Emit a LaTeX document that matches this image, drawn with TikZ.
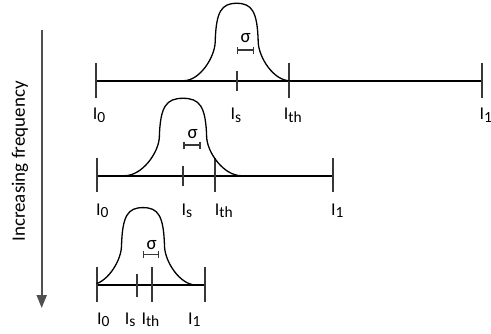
\documentclass[tikz,border=0pt]{standalone}
\usepackage{fontspec}
\setmainfont{Carlito}
\usetikzlibrary{arrows.meta}
\definecolor{TickGray}{RGB}{55,55,55}
\definecolor{ArrowGray}{RGB}{80,80,80}
\tikzset{
  >=latex,
  % assi, tacche e campana
  axis/.style={line width=1.9pt,black},
  tick long/.style={line width=1.9pt,TickGray},
  tick short/.style={line width=1.8pt,TickGray},
  bell/.style={line width=1.3pt,black},
  sigma bar/.style={line width=1.3pt,TickGray,{Bar[width=7pt]}-{Bar[width=7pt]}},
  % testi
  lbl/.style={anchor=base west,inner sep=0pt,font=\fontsize{18}{18}\selectfont},
  sig/.style={inner sep=0pt,font=\fontsize{19}{19}\selectfont},
  bump/.pic={
    \draw[bell] (-53,0) .. controls (-37,0) and (-22,-23.2) .. (-21.5,-38.7)
      .. controls (-20.7,-69.7) and (-15,-77.4) .. (0,-77.4)
      .. controls (15,-77.4) and (20.7,-69.7) .. (21.5,-38.7)
      .. controls (22,-23.2) and (37,0) .. (53,0);
  }
}
\newcommand{\Isub}[1]{I\raisebox{-2.5pt}{\fontsize{15.5}{15.5}\selectfont #1}}

\begin{document}
\begin{tikzpicture}[x=1pt,y=-1pt]
  \useasboundingbox (0,0) rectangle (491,333);

  % freccia frequenza
  \coordinate (arrtop) at (41.7,30);
  \coordinate (arrtip) at (41.7,308);
  \draw[ArrowGray,line width=2pt,-{Triangle[length=13pt,width=10pt]}] (arrtop) -- (arrtip);
  \node[rotate=90,inner sep=0pt,font=\fontsize{19}{19}\selectfont] (freq) at (20,161.5) {Increasing frequency};

  % riga 1
  \draw[axis] (96,80.7) -- (482,80.7);
  \draw[tick long] (96,63) -- (96,98);
  \draw[tick short] (236.7,71) -- (236.7,91);
  \draw[tick long] (289,63) -- (289,98);
  \draw[tick long] (482,63) -- (482,98);
  \pic at (236.7,80.7) {bump};
  \draw[sigma bar] (236.7,50) -- (254,50);
  \node[sig] (sig1) at (245.7,38.3) {σ};
  \node[lbl] (a0) at (92.6,119.5) {\Isub{0}};
  \node[lbl] (as) at (230.3,119.5) {\Isub{s}};
  \node[lbl] (ath) at (283.6,119.5) {\Isub{th}};
  \node[lbl] (a1) at (479.3,119.5) {\Isub{1}};

  % riga 2
  \draw[axis] (96.7,175.7) -- (333,175.7);
  \draw[tick long] (96.7,158) -- (96.7,192);
  \draw[tick short] (182.7,166) -- (182.7,185.5);
  \draw[tick long] (215,158) -- (215,192);
  \draw[tick long] (333,158) -- (333,192);
  \pic[xscale=1.1] at (183,175.7) {bump};
  \draw[sigma bar] (183.3,145) -- (200.7,145);
  \node[sig] (sig2) at (192.7,134) {σ};
  \node[lbl] (b0) at (95.9,215.3) {\Isub{0}};
  \node[lbl] (bs) at (181.3,215.3) {\Isub{s}};
  \node[lbl] (bth) at (214.6,215.3) {\Isub{th}};
  \node[lbl] (b1) at (330.9,215.3) {\Isub{1}};

  % riga 3
  \draw[axis] (96.7,285) -- (205,285);
  \draw[tick long] (96.7,267) -- (96.7,301.7);
  \draw[tick short] (136.7,274) -- (136.7,296.7);
  \draw[tick long] (151.7,267) -- (151.7,301.7);
  \draw[tick long] (205,267) -- (205,301.7);
  \begin{scope}
    \clip (96.7,200) rectangle (300,292);
    \pic at (143,285) {bump};
  \end{scope}
  \draw[sigma bar] (142.7,254.3) -- (159.3,254.3);
  \node[sig] (sig3) at (151.7,244.7) {σ};
  \node[lbl] (c0) at (96.9,324.3) {\Isub{0}};
  \node[lbl] (cs) at (124.6,324.3) {\Isub{s}};
  \node[lbl] (cth) at (141.3,324.3) {\Isub{th}};
  \node[lbl] (c1) at (187.9,324.3) {\Isub{1}};
\end{tikzpicture}
\end{document}
